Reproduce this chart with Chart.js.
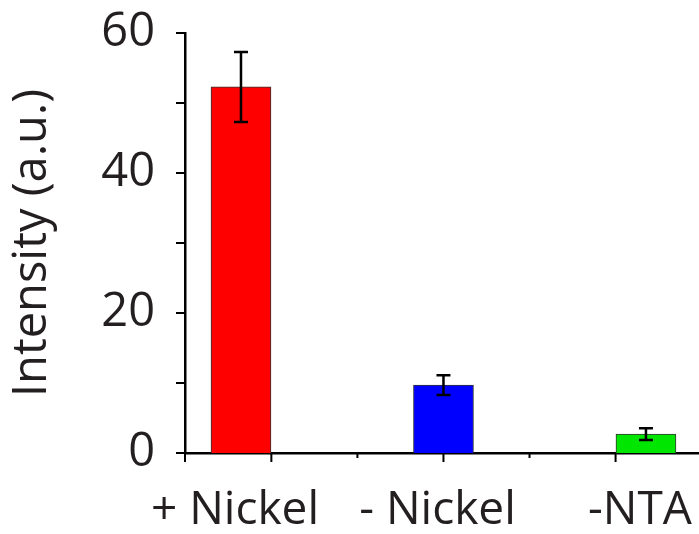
<!DOCTYPE html>
<html>
<head>
<meta charset="utf-8">
<script src="https://cdn.jsdelivr.net/npm/chart.js@4"></script>
<style>
html,body{margin:0;padding:0;background:#fff;}
#wrap{width:699px;height:534px;}
</style>
</head>
<body>
<div id="wrap"><canvas id="c" width="699" height="534"></canvas></div>
<script>
const categories = ['+ Nickel', '- Nickel', '-NTA'];
const values = [52.3, 9.7, 2.7];
const errors = [5.0, 1.4, 0.85];
const barColors = ['#ff0000', '#0000ff', '#00e600'];
const yTickValues = [0, 20, 40, 60];
const xMajorTicks = [0.15, 1.0, 1.85];
const xMinorTicks = [0.575, 1.425];

const textColor = '#231f20';
const fontFamily = '"Open Sans", sans-serif';

const errorBars = {
  id: 'errorBars',
  afterDatasetsDraw(chart) {
    const ctx = chart.ctx;
    const y = chart.scales.y;
    const meta = chart.getDatasetMeta(0);
    ctx.save();
    ctx.strokeStyle = '#000';
    ctx.lineWidth = 2.5;
    meta.data.forEach((bar, i) => {
      const top = y.getPixelForValue(values[i] + errors[i]);
      const bot = y.getPixelForValue(values[i] - errors[i]);
      const x = bar.x;
      ctx.beginPath();
      ctx.moveTo(x, top); ctx.lineTo(x, bot);
      ctx.moveTo(x - 7, top); ctx.lineTo(x + 7, top);
      ctx.moveTo(x - 7, bot); ctx.lineTo(x + 7, bot);
      ctx.stroke();
    });
    ctx.restore();
  }
};

const tickMarks = {
  id: 'tickMarks',
  afterDraw(chart) {
    const ctx = chart.ctx;
    const y = chart.scales.y, x = chart.scales.x;
    const area = chart.chartArea;
    ctx.save();
    ctx.strokeStyle = '#000';
    ctx.lineWidth = 2;
    ctx.beginPath();
    y.ticks.forEach(t => {
      const py = y.getPixelForValue(t.value);
      const len = (t.value % 10 === 0) ? 9 : 5;
      ctx.moveTo(area.left - len, py); ctx.lineTo(area.left, py);
    });
    [x.min].concat(xMajorTicks).forEach(v => {
      const px = x.getPixelForValue(v);
      ctx.moveTo(px, area.bottom); ctx.lineTo(px, area.bottom + 9);
    });
    xMinorTicks.forEach(v => {
      const px = x.getPixelForValue(v);
      ctx.moveTo(px, area.bottom); ctx.lineTo(px, area.bottom + 5);
    });
    ctx.stroke();
    ctx.restore();
  }
};

new Chart(document.getElementById('c'), {
  type: 'bar',
  data: {
    datasets: [{
      data: categories.map((c, i) => ({ x: i, y: values[i] })),
      backgroundColor: barColors,
      borderColor: '#333',
      borderWidth: 1,
      barThickness: 60
    }]
  },
  options: {
    responsive: false,
    animation: false,
    devicePixelRatio: 1,
    layout: { padding: { top: 33, right: 0, left: 0, bottom: 0 } },
    plugins: { legend: { display: false }, tooltip: { enabled: false } },
    scales: {
      x: {
        type: 'linear',
        offset: false,
        min: -0.2765,
        max: 2.262,
        grid: { display: false, drawTicks: false, offset: false },
        border: { display: true, color: '#000', width: 2.5 },
        afterBuildTicks: (s) => { s.ticks = categories.map((c, i) => ({ value: i })); },
        afterFit: (s) => { s.height = 81; s.paddingLeft = 0; s.paddingRight = 0; },
        ticks: {
          autoSkip: false,
          maxRotation: 0,
          padding: 30,
          labelOffset: -6,
          color: textColor,
          font: { family: fontFamily, size: 46 },
          callback: (v) => categories[v]
        }
      },
      y: {
        min: 0,
        max: 60,
        grid: { display: false, drawTicks: false },
        border: { display: true, color: '#000', width: 2.5 },
        afterFit: (s) => { s.width = 185; s.paddingTop = 0; s.paddingBottom = 0; },
        ticks: {
          stepSize: 5,
          padding: 30,
          color: textColor,
          font: { family: fontFamily, size: 47 },
          callback: (v) => yTickValues.includes(v) ? String(v) : ''
        },
        title: {
          display: true,
          text: 'Intensity (a.u.)',
          color: textColor,
          font: { family: fontFamily, size: 47 },
          padding: { top: 4, bottom: 0 }
        }
      }
    }
  },
  plugins: [errorBars, tickMarks]
});
</script>
</body>
</html>
